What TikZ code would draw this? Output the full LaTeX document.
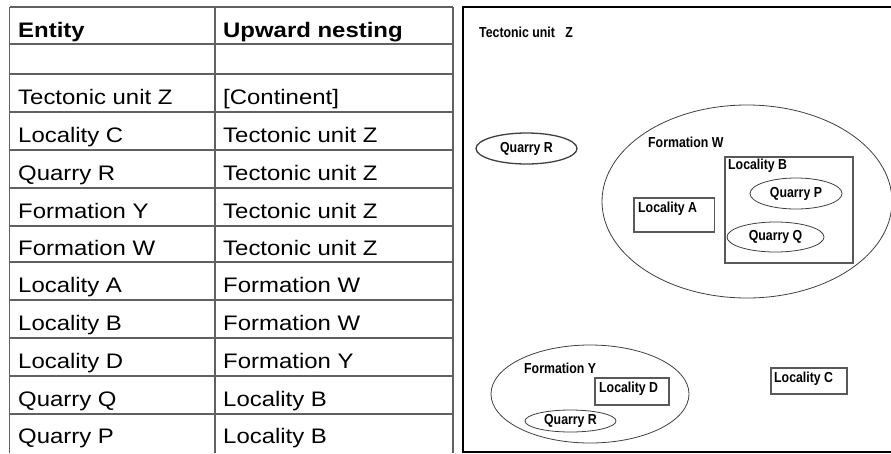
\documentclass[tikz,border=0pt]{standalone}
\usepackage{fontspec}
\setmainfont{Liberation Sans}
\usetikzlibrary{shapes.geometric}
\newcommand{\sxa}[1]{\scalebox{1.14}[1]{#1}}
\newcommand{\sxb}[1]{\scalebox{0.85}[1]{#1}}
\begin{document}
\begin{tikzpicture}[x=1pt,y=-1pt,
  tline/.style={draw=black!62, line width=1.1pt},
  cell/.style={anchor=base west, inner sep=0pt, font=\fontsize{21}{21}\selectfont},
  head/.style={anchor=base west, inner sep=0pt, font=\fontsize{21}{21}\selectfont\bfseries},
  lbl/.style={anchor=base west, inner sep=0pt, font=\fontsize{14.5}{15}\selectfont\bfseries},
  oval/.style={draw=black!75, ellipse, inner sep=0pt, line width=0.8pt, font=\fontsize{14.5}{15}\selectfont\bfseries},
  locbox/.style={draw=black!65, rectangle, inner sep=0pt, line width=1.2pt}
]
\useasboundingbox (0,0) rectangle (891,453);
\fill[white] (0,0) rectangle (891,453);

% ---------- table ----------
\draw[tline] (9.5,7) -- (453,7);
\foreach \yy in {44,74,112,150,188,226,262,300,338,376,414}
  \draw[tline] (9.5,\yy) -- (453,\yy);
\draw[tline] (9.5,7) -- (9.5,453);
\draw[tline] (215,7) -- (215,453);
\draw[tline] (453,7) -- (453,453);

\node[head] (h1) at (18,37) {\sxa{Entity}};
\node[head] (h2) at (223,37) {\sxa{Upward nesting}};

\node[cell] (e1) at (18,104) {\sxa{Tectonic unit Z}};
\node[cell] (n1) at (223,104) {\sxa{[Continent]}};
\node[cell] (e2) at (18,142) {\sxa{Locality C}};
\node[cell] (n2) at (223,142) {\sxa{Tectonic unit Z}};
\node[cell] (e3) at (18,180) {\sxa{Quarry R}};
\node[cell] (n3) at (223,180) {\sxa{Tectonic unit Z}};
\node[cell] (e4) at (18,218) {\sxa{Formation Y}};
\node[cell] (n4) at (223,218) {\sxa{Tectonic unit Z}};
\node[cell] (e5) at (18,255) {\sxa{Formation W}};
\node[cell] (n5) at (223,255) {\sxa{Tectonic unit Z}};
\node[cell] (e6) at (18,292.5) {\sxa{Locality A}};
\node[cell] (n6) at (223,292.5) {\sxa{Formation W}};
\node[cell] (e7) at (18,330.5) {\sxa{Locality B}};
\node[cell] (n7) at (223,330.5) {\sxa{Formation W}};
\node[cell] (e8) at (18,368.5) {\sxa{Locality D}};
\node[cell] (n8) at (223,368.5) {\sxa{Formation Y}};
\node[cell] (e9) at (18,406) {\sxa{Quarry Q}};
\node[cell] (n9) at (223,406) {\sxa{Locality B}};
\node[cell] (e10) at (18,443.5) {\sxa{Quarry P}};
\node[cell] (n10) at (223,443.5) {\sxa{Locality B}};

% ---------- diagram ----------
\draw[line width=1.8pt] (892,7) -- (463,7) -- (463,452) -- (892,452);
\node[lbl] (tz) at (479,37) {\sxb{Tectonic unit\ \ \ Z}};

\node[oval, line width=1.3pt, minimum width=101pt, minimum height=31pt] (qr1) at (526.5,148.5) {\sxb{Quarry R}};

\node[oval, minimum width=290pt, minimum height=193pt] (fw) at (747,201.5) {};
\node[lbl] (fwl) at (648,147) {\sxb{Formation W}};

\node[locbox, minimum width=128pt, minimum height=106pt] (lb) at (789,210) {};
\node[lbl] (lbl1) at (728,169) {\sxb{Locality B}};
\node[oval, minimum width=92pt, minimum height=31pt] (qp) at (796,193.5) {\sxb{Quarry P}};
\node[oval, minimum width=97pt, minimum height=30pt] (qq) at (775.5,237) {\sxb{Quarry Q}};

\node[locbox, minimum width=80.5pt, minimum height=34pt] (la) at (674.25,215) {};
\node[lbl] (lal) at (638,212) {\sxb{Locality A}};

\node[oval, minimum width=198pt, minimum height=98pt] (fy) at (590,394) {};
\node[lbl] (fyl) at (524,373) {\sxb{Formation Y}};
\node[locbox, minimum width=74pt, minimum height=27pt] (ld) at (632,391.5) {};
\node[lbl] (ldl) at (599,392) {\sxb{Locality D}};
\node[oval, minimum width=91pt, minimum height=22pt] (qr2) at (570.5,421) {\sxb{Quarry R}};

\node[locbox, minimum width=76pt, minimum height=26pt] (lc) at (809,381) {};
\node[lbl] (lcl) at (774,382) {\sxb{Locality C}};
\end{tikzpicture}
\end{document}
